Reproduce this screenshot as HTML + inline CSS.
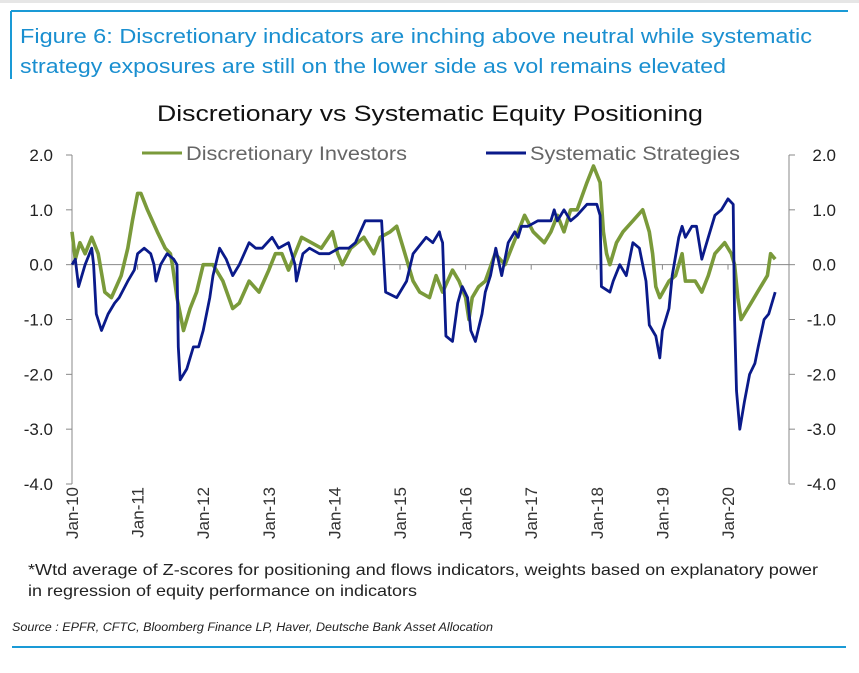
<!DOCTYPE html>
<html><head><meta charset="utf-8">
<style>
body{margin:0;background:#fff;width:859px;height:668px;overflow:hidden;font-family:"Liberation Sans",sans-serif;}
</style></head>
<body>
<svg id="c" width="859" height="668" xmlns="http://www.w3.org/2000/svg">
<rect x="0" y="0" width="859" height="3" fill="#e6e6e6"/>
<line x1="11" y1="11" x2="848" y2="11" stroke="#1a9ad6" stroke-width="2"/>
<line x1="11" y1="11" x2="11" y2="79" stroke="#1a9ad6" stroke-width="2"/>
<text x="20" y="43" font-size="20.5" fill="#1a8fd0" textLength="792" lengthAdjust="spacingAndGlyphs">Figure 6: Discretionary indicators are inching above neutral while systematic</text>
<text x="20" y="73" font-size="20.5" fill="#1a8fd0" textLength="706" lengthAdjust="spacingAndGlyphs">strategy exposures are still on the lower side as vol remains elevated</text>
<text x="157" y="121" font-size="22.5" fill="#111" textLength="546" lengthAdjust="spacingAndGlyphs">Discretionary  vs Systematic Equity Positioning</text>
<line x1="142" y1="153" x2="182" y2="153" stroke="#7a9a3a" stroke-width="3"/>
<text x="186" y="160" font-size="19" fill="#666" textLength="221" lengthAdjust="spacingAndGlyphs">Discretionary Investors</text>
<line x1="486" y1="153" x2="526" y2="153" stroke="#0a1a8a" stroke-width="3"/>
<text x="530" y="160" font-size="19" fill="#666" textLength="210" lengthAdjust="spacingAndGlyphs">Systematic Strategies</text>
<g id="axes"></g>
<g id="series"></g>
<text x="28" y="575" font-size="16" fill="#222" textLength="790" lengthAdjust="spacingAndGlyphs">*Wtd average of Z-scores for positioning and flows indicators, weights based on explanatory power</text>
<text x="28" y="596" font-size="16" fill="#222" textLength="389" lengthAdjust="spacingAndGlyphs">in regression of equity performance on indicators</text>
<text x="12" y="631" font-size="11.5" font-style="italic" fill="#222" textLength="481" lengthAdjust="spacingAndGlyphs">Source : EPFR, CFTC, Bloomberg Finance LP, Haver, Deutsche Bank Asset Allocation</text>
<line x1="12" y1="647" x2="846" y2="647" stroke="#1a9ad6" stroke-width="2"/>
</svg>
<script>
const yTicks=[2,1,0,-1,-2,-3,-4];
const yTickLabels=["2.0","1.0","0.0","-1.0","-2.0","-3.0","-4.0"];
const xYears=[2010,2011,2012,2013,2014,2015,2016,2017,2018,2019,2020];
const xTickLabels=["Jan-10","Jan-11","Jan-12","Jan-13","Jan-14","Jan-15","Jan-16","Jan-17","Jan-18","Jan-19","Jan-20"];
const discDates=[2010.0,2010.05,2010.12,2010.2,2010.3,2010.4,2010.5,2010.6,2010.75,2010.85,2010.92,2011.0,2011.05,2011.15,2011.3,2011.42,2011.5,2011.53,2011.6,2011.7,2011.8,2011.9,2012.0,2012.15,2012.3,2012.45,2012.55,2012.7,2012.85,2013.0,2013.1,2013.2,2013.3,2013.5,2013.65,2013.8,2013.97,2014.05,2014.12,2014.25,2014.35,2014.45,2014.6,2014.7,2014.85,2014.95,2015.05,2015.2,2015.3,2015.45,2015.55,2015.65,2015.8,2015.9,2016.0,2016.05,2016.1,2016.2,2016.3,2016.45,2016.6,2016.7,2016.8,2016.9,2017.03,2017.2,2017.3,2017.4,2017.5,2017.6,2017.7,2017.85,2017.95,2018.05,2018.1,2018.15,2018.2,2018.3,2018.4,2018.55,2018.7,2018.8,2018.85,2018.9,2018.96,2019.1,2019.2,2019.3,2019.35,2019.5,2019.6,2019.7,2019.8,2019.95,2020.05,2020.1,2020.15,2020.2,2020.35,2020.45,2020.6,2020.65,2020.72];
const discValues=[0.6,0.1,0.4,0.2,0.5,0.2,-0.5,-0.6,-0.2,0.3,0.8,1.3,1.3,1.0,0.6,0.3,0.2,0.0,-0.6,-1.2,-0.8,-0.5,0.0,0.0,-0.3,-0.8,-0.7,-0.3,-0.5,-0.1,0.2,0.2,-0.1,0.5,0.4,0.3,0.6,0.2,0.0,0.3,0.4,0.5,0.2,0.5,0.6,0.7,0.3,-0.3,-0.5,-0.6,-0.2,-0.5,-0.1,-0.3,-0.6,-1.0,-0.6,-0.4,-0.3,0.2,0.0,0.3,0.6,0.9,0.6,0.4,0.6,0.9,0.6,1.0,1.0,1.5,1.8,1.5,0.6,0.2,0.0,0.4,0.6,0.8,1.0,0.6,0.2,-0.4,-0.6,-0.3,-0.2,0.2,-0.3,-0.3,-0.5,-0.2,0.2,0.4,0.2,0.0,-0.6,-1.0,-0.7,-0.5,-0.2,0.2,0.1];
const sysDates=[2010.0,2010.05,2010.1,2010.2,2010.3,2010.33,2010.37,2010.45,2010.55,2010.65,2010.72,2010.85,2010.95,2011.0,2011.1,2011.2,2011.25,2011.28,2011.35,2011.45,2011.55,2011.6,2011.62,2011.65,2011.75,2011.85,2011.93,2012.0,2012.1,2012.15,2012.25,2012.35,2012.45,2012.55,2012.7,2012.8,2012.9,2013.05,2013.15,2013.3,2013.4,2013.42,2013.52,2013.62,2013.77,2013.92,2014.07,2014.22,2014.32,2014.47,2014.55,2014.72,2014.78,2014.95,2015.1,2015.2,2015.4,2015.5,2015.6,2015.62,2015.65,2015.7,2015.8,2015.88,2015.95,2016.03,2016.08,2016.15,2016.25,2016.3,2016.38,2016.46,2016.55,2016.65,2016.75,2016.8,2016.85,2016.95,2017.1,2017.2,2017.3,2017.35,2017.4,2017.5,2017.6,2017.7,2017.85,2018.0,2018.05,2018.07,2018.2,2018.25,2018.35,2018.45,2018.55,2018.65,2018.75,2018.8,2018.9,2018.96,2019.0,2019.1,2019.15,2019.25,2019.3,2019.35,2019.45,2019.52,2019.6,2019.7,2019.8,2019.9,2020.0,2020.08,2020.1,2020.13,2020.18,2020.25,2020.33,2020.41,2020.46,2020.55,2020.62,2020.72];
const sysValues=[0.0,0.1,-0.4,0.0,0.3,0.0,-0.9,-1.2,-0.9,-0.7,-0.6,-0.3,-0.1,0.2,0.3,0.2,0.0,-0.3,0.0,0.2,0.1,0.0,-1.5,-2.1,-1.9,-1.5,-1.5,-1.2,-0.6,-0.2,0.3,0.1,-0.2,0.0,0.4,0.3,0.3,0.5,0.3,0.4,0.0,-0.3,0.2,0.3,0.2,0.2,0.3,0.3,0.4,0.8,0.8,0.8,-0.5,-0.6,-0.3,0.2,0.5,0.4,0.6,0.5,0.4,-1.3,-1.4,-0.7,-0.4,-0.6,-1.2,-1.4,-0.9,-0.5,-0.2,0.3,-0.2,0.4,0.6,0.5,0.7,0.7,0.8,0.8,0.8,1.0,0.8,1.0,0.8,0.9,1.1,1.1,0.9,-0.4,-0.5,-0.3,0.0,-0.2,0.4,0.3,-0.3,-1.1,-1.3,-1.7,-1.2,-0.8,-0.2,0.5,0.7,0.5,0.7,0.7,0.1,0.5,0.9,1.0,1.2,1.1,-1.0,-2.3,-3.0,-2.5,-2.0,-1.8,-1.5,-1.0,-0.9,-0.5];

const NS="http://www.w3.org/2000/svg";
const X0=72,X1=789,YTOP=155,YBOT=484;
function xs(t){return X0+(t-2010)*65.6;}
function ys(v){return YTOP+(2-v)*(YBOT-YTOP)/6;}
function mk(tag,attrs,parent){const e=document.createElementNS(NS,tag);for(const k in attrs)e.setAttribute(k,attrs[k]);parent.appendChild(e);return e;}
const ax=document.getElementById('axes');
let e;
e=mk('line',{x1:X0,y1:ys(2),x2:X0,y2:ys(-4),stroke:'#888','stroke-width':1},ax);


e=mk('line',{x1:X1,y1:ys(2),x2:X1,y2:ys(-4),stroke:'#888','stroke-width':1},ax);


e=mk('line',{x1:X0,y1:ys(0),x2:X1,y2:ys(0),stroke:'#888','stroke-width':1},ax);


yTicks.forEach((v,i)=>{
  let t=mk('line',{x1:X0-6,y1:ys(v),x2:X0,y2:ys(v),stroke:'#888'},ax);
  
  
  t=mk('line',{x1:X1,y1:ys(v),x2:X1+6,y2:ys(v),stroke:'#888'},ax);
  
  
  let l=mk('text',{x:53,y:ys(v)+6,'font-size':17,fill:'#222','text-anchor':'end'},ax);
  l.textContent=yTickLabels[i];
  
  
  l=mk('text',{x:836,y:ys(v)+6,'font-size':17,fill:'#222','text-anchor':'end'},ax);
  l.textContent=yTickLabels[i];
  
  
});
xYears.forEach((yr,i)=>{
  const x=xs(yr);
  let t=mk('line',{x1:x,y1:ys(0),x2:x,y2:ys(0)+5,stroke:'#888'},ax);
  
  
  let l=mk('text',{x:0,y:0,'font-size':17,fill:'#333','text-anchor':'end',transform:`translate(${x+6},487) rotate(-90)`},ax);
  l.textContent=xTickLabels[i];
  
  
});
const sg=document.getElementById('series');
function path(d,v){return d.map((t,i)=>(i?'L':'M')+xs(t).toFixed(1)+','+ys(v[i]).toFixed(1)).join('');}
e=mk('path',{d:path(discDates,discValues),fill:'none',stroke:'#7a9a3a','stroke-width':3.6,'stroke-linejoin':'round'},sg);


e=mk('path',{d:path(sysDates,sysValues),fill:'none',stroke:'#0a1a8a','stroke-width':2.8,'stroke-linejoin':'round'},sg);


</script>
</body></html>
